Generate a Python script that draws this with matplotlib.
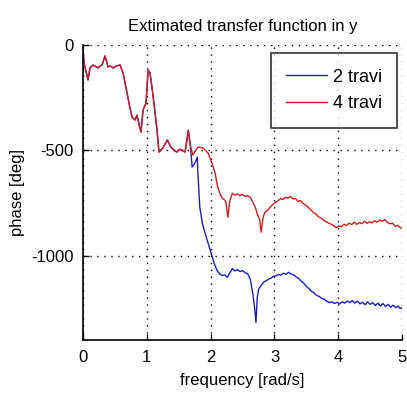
import numpy as np
import matplotlib
matplotlib.use("Agg")
import matplotlib.pyplot as plt

plt.rcParams['font.family'] = ['Liberation Sans', 'DejaVu Sans']

# Phase estimate shared by both configurations at low frequency
freq_common = [0.0, 0.016, 0.078, 0.11, 0.157, 0.20, 0.235, 0.27, 0.298, 0.345, 0.392, 0.43, 0.47,
               0.52, 0.58, 0.627, 0.69, 0.73, 0.768, 0.815, 0.846, 0.88, 0.909, 0.94, 0.987, 1.02,
               1.05, 1.10, 1.16, 1.19, 1.25, 1.32, 1.36, 1.39, 1.43, 1.47, 1.51, 1.55, 1.60, 1.65, 1.68]
phase_common = [-20, -86, -166, -109, -95, -102, -109, -100, -95, -52, -104, -100, -109,
                -100, -95, -133, -228, -290, -342, -356, -333, -380, -413, -309, -276, -119,
                -133, -247, -404, -508, -489, -451, -475, -489, -500, -508, -495, -499, -508, -404, -475]

# 2 travi beyond the split
freq_2 = [1.71, 1.76, 1.79, 1.80, 1.83, 1.87, 1.90, 1.94, 1.97, 2.00, 2.03, 2.06,
          2.10, 2.14, 2.18, 2.22, 2.26, 2.30, 2.34, 2.38, 2.42, 2.46, 2.50, 2.54,
          2.58, 2.62, 2.66, 2.69, 2.71, 2.73, 2.75, 2.79, 2.83, 2.87, 2.91, 2.95,
          2.98, 3.02, 3.06, 3.10, 3.14, 3.18, 3.22, 3.26, 3.30, 3.34, 3.38, 3.42,
          3.46, 3.50, 3.54, 3.58, 3.62, 3.66, 3.70, 3.74, 3.78, 3.82, 3.86, 3.90,
          3.94, 3.98, 4.02, 4.06, 4.10, 4.14, 4.18, 4.22, 4.26, 4.30, 4.34, 4.38,
          4.42, 4.46, 4.50, 4.54, 4.58, 4.62, 4.66, 4.70, 4.74, 4.78, 4.82, 4.86,
          4.90, 4.94, 4.97, 5.0]
phase_2 = [-579, -556, -532, -608, -770, -846, -880, -920, -950, -980, -1010, -1040,
           -1069, -1085, -1093, -1090, -1102, -1080, -1060, -1072, -1065, -1075, -1070, -1080,
           -1085, -1110, -1178, -1250, -1316, -1200, -1160, -1140, -1125, -1118, -1110, -1105,
           -1097, -1095, -1088, -1092, -1082, -1088, -1078, -1086, -1090, -1100, -1108, -1120,
           -1130, -1145, -1155, -1168, -1175, -1188, -1192, -1202, -1206, -1215, -1222, -1218,
           -1226, -1220, -1228, -1218, -1224, -1214, -1222, -1212, -1224, -1215, -1228, -1220,
           -1232, -1218, -1230, -1222, -1235, -1224, -1238, -1226, -1240, -1230, -1244, -1234,
           -1246, -1238, -1250, -1245]

# 4 travi beyond the split
freq_4 = [1.72, 1.80, 1.88, 1.96, 2.02, 2.07, 2.10, 2.14, 2.18, 2.22, 2.24, 2.27,
          2.30, 2.34, 2.38, 2.42, 2.46, 2.50, 2.54, 2.58, 2.62, 2.66, 2.70, 2.73,
          2.77, 2.79, 2.82, 2.85, 2.89, 2.93, 2.96, 3.02, 3.06, 3.10, 3.13, 3.17,
          3.21, 3.25, 3.29, 3.33, 3.37, 3.41, 3.45, 3.49, 3.53, 3.57, 3.61, 3.65,
          3.69, 3.73, 3.77, 3.81, 3.85, 3.89, 3.93, 3.97, 4.01, 4.05, 4.09, 4.13,
          4.17, 4.21, 4.25, 4.29, 4.33, 4.37, 4.41, 4.45, 4.49, 4.53, 4.57, 4.61,
          4.65, 4.69, 4.73, 4.77, 4.81, 4.85, 4.89, 4.93, 4.97, 5.0]
phase_4 = [-522, -484, -489, -513, -560, -608, -660, -700, -727, -735, -745, -817,
           -740, -703, -712, -706, -714, -710, -718, -715, -722, -745, -770, -800,
           -830, -888, -820, -793, -785, -770, -760, -745, -738, -728, -733, -722,
           -727, -718, -730, -728, -742, -738, -752, -760, -770, -782, -795, -802,
           -815, -820, -832, -838, -845, -850, -858, -866, -858, -862, -850, -856,
           -845, -852, -840, -851, -842, -848, -836, -846, -838, -844, -833, -840,
           -830, -836, -828, -842, -848, -845, -860, -855, -866, -869]

x_ticks = [0, 1, 2, 3, 4, 5]
y_ticks = [-1000, -500, 0]

fig = plt.figure(figsize=(4.07, 4.05), dpi=100)
ax = fig.add_axes([0.204, 0.16, 0.784, 0.729])

blue = '#1c1cc4'
red = '#d41c1c'
ax.plot(freq_common + freq_2, phase_common + phase_2, color=blue, lw=1.0, label='2 travi')
ax.plot(freq_common + freq_4, phase_common + phase_4, color=red, lw=1.0, label='4 travi')

ax.set_xlim(0, 5)
ax.set_ylim(-1400, 0)
ax.set_xticks(x_ticks)
ax.set_yticks(y_ticks)
ax.set_yticklabels(['-1000', '-500', '0'])

for side in ('top', 'right'):
    ax.spines[side].set_visible(False)
for side in ('left', 'bottom'):
    ax.spines[side].set_linewidth(1.2)

ax.grid(True, color='black', linestyle=(0, (1, 4)), linewidth=1.0)
ax.tick_params(direction='in', length=4, width=1, labelsize=12, pad=7)

ax.set_title('Extimated transfer function in y', fontsize=12, pad=10)
ax.set_xlabel('frequency [rad/s]', fontsize=12, labelpad=6)
ax.set_ylabel('phase [deg]', fontsize=12, labelpad=4)

leg = ax.legend(loc='upper right', bbox_to_anchor=(0.985, 0.972), fontsize=13,
                frameon=True, fancybox=False, edgecolor='black', handlelength=2.3,
                handletextpad=0.3, borderpad=0.85, labelspacing=0.55, borderaxespad=0)
leg.get_frame().set_linewidth(1.2)

fig.savefig('out.png', dpi=100)
